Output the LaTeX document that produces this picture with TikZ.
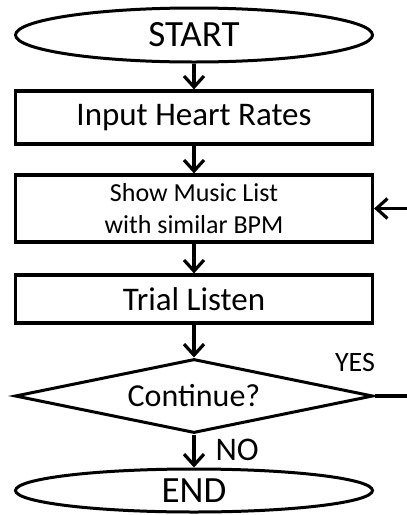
\documentclass[tikz,border=0pt]{standalone}
\usepackage{fontspec}
\setmainfont{Carlito}
\usetikzlibrary{shapes.geometric,arrows.meta}
\begin{document}
\begin{tikzpicture}[x=1pt,y=-1pt,
  every node/.style={text=black},
  flow/.style={line width=3.2pt,-{Straight Barb[length=11pt,width=20pt,line width=3.2pt]}},
  terminal/.style={ellipse,draw,line width=3pt,minimum width=357pt,minimum height=54pt,inner sep=0pt},
  process/.style={rectangle,draw,line width=3.2pt,minimum width=357pt,inner sep=0pt},
  decision/.style={diamond,draw,line width=3pt,minimum width=358pt,minimum height=74pt,inner sep=0pt,aspect=4.8}]
\useasboundingbox (0,0) rectangle (407,515);
\clip (0,0) rectangle (407,515);
\node[terminal,font=\fontsize{37}{37}\selectfont] (start) at (194,35) {START};
\node[process,minimum height=53pt,font=\fontsize{33}{33}\selectfont] (input) at (194,117.5) {Input Heart Rates};
\node[process,minimum height=67pt,align=center,font=\fontsize{26}{32}\selectfont] (show) at (194,208.5) {Show Music List\\with similar BPM};
\node[process,minimum height=48pt,font=\fontsize{33}{33}\selectfont] (trial) at (194,299) {Trial Listen};
\node[decision,font=\fontsize{32}{32}\selectfont] (cont) at (194,396) {Continue?};
\node[terminal,minimum height=43pt,font=\fontsize{37}{37}\selectfont] (end) at (194,490.5) {END};
\node[font=\fontsize{28}{28}\selectfont,anchor=center] (yes) at (355,363) {YES};
\node[font=\fontsize{33}{33}\selectfont,anchor=west] (no) at (212,450) {NO};
\coordinate (loop) at (430,0);
\draw[flow] (start) -- (input);
\draw[flow] (input) -- (show);
\draw[flow] (show) -- (trial);
\draw[flow] (trial) -- (cont);
\draw[flow] (cont) -- (end);
\draw[flow] (cont.east) -- (cont.east -| loop) |- (show.east);
\end{tikzpicture}
\end{document}
